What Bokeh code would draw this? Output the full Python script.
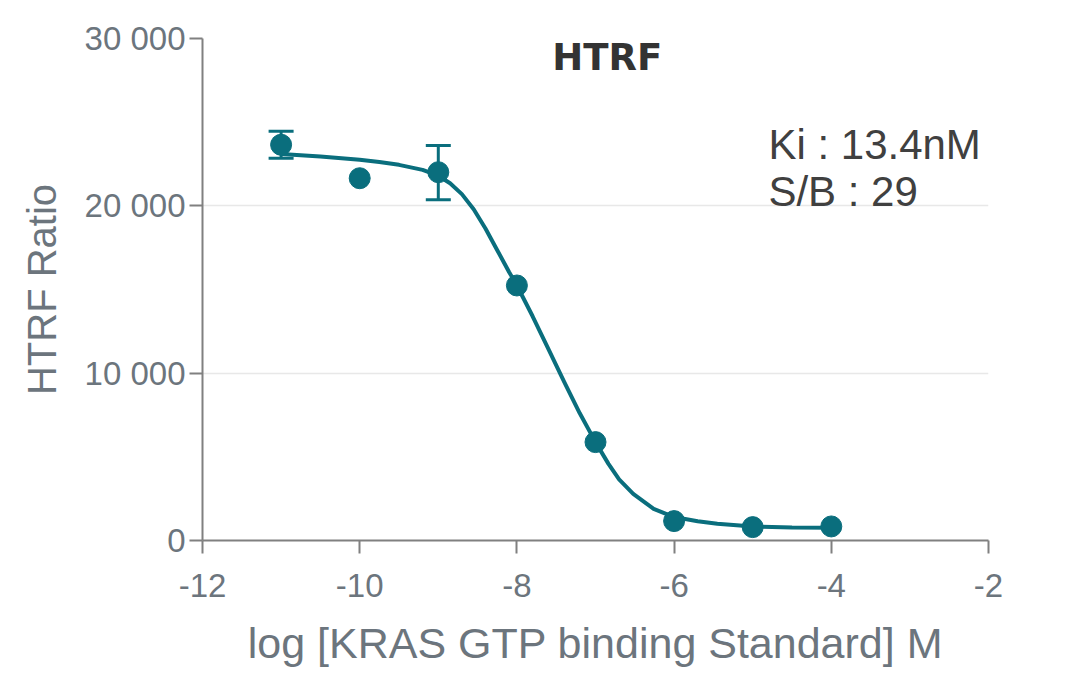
from bokeh.plotting import figure
from bokeh.models import Whisker, ColumnDataSource, Label, TeeHead, FixedTicker
from bokeh.embed import file_html
from bokeh.resources import INLINE

# ---- data ----
log_conc = [-11, -10, -9, -8, -7, -6, -5, -4]
htrf_ratio = [23650, 21650, 22010, 15240, 5880, 1160, 800, 840]

err_x = [-11, -9]
err_upper = [24460, 23600]
err_lower = [22850, 20360]

fit_x = [-11, -10.5, -10, -9.75, -9.5, -9.2, -9, -8.85, -8.7, -8.55, -8.4,
         -8.25, -8.1, -8, -7.8, -7.6, -7.4, -7.2, -7, -6.835, -6.7, -6.52,
         -6.26, -6, -5.7, -5.45, -5, -4.5, -4]
fit_y = [23100, 22950, 22750, 22620, 22450, 22150, 21800, 21350, 20700, 19800,
         18650, 17350, 16050, 15240, 13400, 11450, 9500, 7600, 5880, 4580,
         3650, 2790, 1890, 1400, 1150, 1000, 840, 770, 760]

x_ticks = [-12, -10, -8, -6, -4, -2]
x_tick_labels = ["-12", "-10", "-8", "-6", "-4", "-2"]
y_ticks = [0, 10000, 20000, 30000]
y_tick_labels = ["0", "10 000", "20 000", "30 000"]
grid_ticks = [10000, 20000]

title_text = "HTRF"
annot_lines = ["Ki : 13.4nM", "S/B : 29"]
x_title = "log [KRAS GTP binding Standard] M"
y_title = "HTRF Ratio"

TEAL = "#0a6e7d"
GREY_TXT = "#6c757d"
AXIS = "#808080"

p = figure(width=1064, height=670, x_range=(-12, -2), y_range=(0, 30000),
           output_backend="svg", toolbar_location=None,
           min_border_left=202, min_border_right=76,
           min_border_top=38, min_border_bottom=130)
p.outline_line_color = None
p.background_fill_color = "white"
p.border_fill_color = "white"

p.xgrid.visible = False
p.ygrid.ticker = FixedTicker(ticks=grid_ticks)
p.ygrid.grid_line_color = "#e8e8e8"
p.ygrid.grid_line_width = 1.5

for ax in (p.xaxis[0], p.yaxis[0]):
    ax.axis_line_color = AXIS
    ax.axis_line_width = 2
    ax.major_tick_line_color = AXIS
    ax.major_tick_line_width = 2
    ax.major_tick_in = 0
    ax.major_tick_out = 13
    ax.minor_tick_line_color = None
    ax.major_label_text_font = "Liberation Sans"
    ax.major_label_text_font_size = "33px"
    ax.major_label_text_color = GREY_TXT
    ax.axis_label_text_font = "Liberation Sans"
    ax.axis_label_text_font_style = "normal"
    ax.axis_label_text_color = GREY_TXT

p.xaxis.ticker = FixedTicker(ticks=x_ticks)
p.xaxis.major_label_overrides = {t: l for t, l in zip(x_ticks, x_tick_labels)}
p.yaxis.ticker = FixedTicker(ticks=y_ticks)
p.yaxis.major_label_overrides = {t: l for t, l in zip(y_ticks, y_tick_labels)}
p.xaxis.axis_label = x_title
p.yaxis.axis_label = y_title
p.xaxis.axis_label_text_font_size = "43px"
p.yaxis.axis_label_text_font_size = "40px"
p.xaxis.major_label_standoff = 20
p.xaxis.axis_label_standoff = 19
p.yaxis.major_label_standoff = 4
p.yaxis.axis_label_standoff = 18

# fitted curve
p.line(fit_x, fit_y, line_color=TEAL, line_width=4, line_join="round")

# error bars
err_src = ColumnDataSource(dict(base=err_x, upper=err_upper, lower=err_lower))
p.add_layout(Whisker(source=err_src, base="base", upper="upper", lower="lower",
                     line_color=TEAL, line_width=3,
                     upper_head=TeeHead(size=25, line_color=TEAL, line_width=3),
                     lower_head=TeeHead(size=25, line_color=TEAL, line_width=3)))

# data points
p.scatter(log_conc, htrf_ratio, size=21, fill_color=TEAL, line_color=TEAL)

# title and annotations
p.add_layout(Label(x=-6.85, y=28865, text=title_text, text_align="center",
                   text_baseline="middle", text_font="DejaVu Sans",
                   text_font_style="bold", text_font_size="37px",
                   text_color="#333333"))
p.add_layout(Label(x=-4.80, y=23665, text=annot_lines[0], text_baseline="middle",
                   text_font="Liberation Sans", text_font_size="42px",
                   text_color="#404040"))
p.add_layout(Label(x=-4.80, y=20857, text=annot_lines[1], text_baseline="middle",
                   text_font="Liberation Sans", text_font_size="42px",
                   text_color="#404040"))

open("out.html", "w").write(file_html(p, INLINE))
